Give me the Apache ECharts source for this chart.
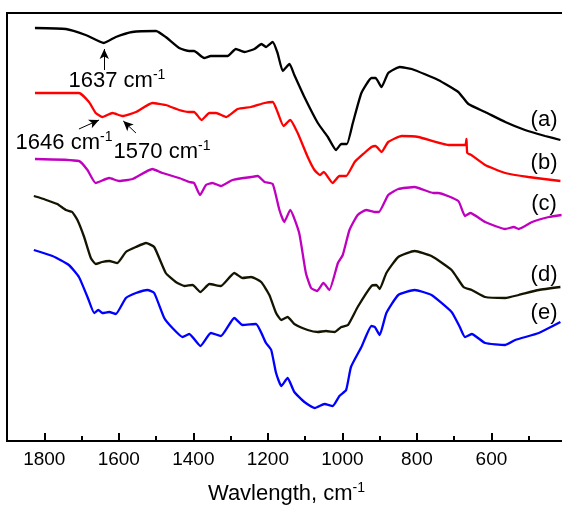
<!DOCTYPE html>
<html>
<head>
    <meta charset="utf-8">
    <title>FTIR</title>
    <script src="https://cdn.jsdelivr.net/npm/echarts@6/dist/echarts.min.js"></script>
    <style type="text/css">
        body{
            margin: 0;
            background: #fff;
        }
        #main{
            width: 562px;
            height: 505px;
        }
    </style>
</head>
<body>
<div id="main"></div>
<script>
    // wavenumbers (cm-1) and offset transmittance (a.u.)
    var wnA = [1825,1742,1689,1640,1608,1564,1500,1474,1438,1411,1398,1371,1353,1308,1286,1263,1236,1217,1205,1187,1174,1160,1142,1129,1102,1066,1039,1017,1003,988,972,949,922,911,895,877,846,814,743,689,662,617,563,510,456,415];
    var tA  = [413,412,406,398,404,409,410,404,393,390,390,383,385,385,392,389,392,397,394,399,388,370,377,366,344,318,304,291,297,297,318,348,363,363,354,368,374,372,361,349,337,329,319,311,305,301];

    var wnB = [1825,1707,1680,1662,1644,1617,1590,1554,1510,1474,1438,1411,1398,1378,1357,1339,1312,1281,1245,1209,1187,1174,1158,1140,1120,1093,1075,1060,1050,1026,1008,990,967,941,922,911,895,877,841,796,715,680,670,667,665,654,617,563,501,415];
    var tB  = [348,348,339,328,324,328,325,329,338,336,331,329,329,321,328,328,324,332,334,338,339,329,315,321,308,284,271,266,269,258,265,265,279,288,294,295,289,299,305,304,296,296,296,302,288,286,276,268,264,260];

    var wnC = [1825,1707,1684,1662,1626,1599,1563,1510,1483,1438,1411,1398,1382,1366,1349,1326,1295,1245,1227,1209,1187,1169,1156,1140,1116,1098,1084,1068,1051,1035,1012,999,981,959,936,914,902,877,850,806,756,743,689,671,657,617,563,540,527,491,446,412];
    var tC  = [282,280,271,258,263,260,262,272,268,263,259,258,246,256,258,255,261,264,265,259,257,231,219,231,208,168,153,150,158,151,178,186,211,226,231,229,229,246,252,254,248,248,240,225,228,219,212,214,212,219,224,226];

    var wnD = [1828,1810,1787,1765,1742,1725,1711,1693,1675,1662,1645,1626,1604,1581,1554,1527,1505,1474,1447,1424,1402,1381,1357,1326,1290,1268,1245,1218,1196,1178,1164,1147,1129,1093,1066,1044,1021,1003,985,959,922,909,900,882,850,806,761,707,675,653,617,563,527,473,415];
    var tD  = [245,243,240,237,231,229,221,204,183,177,179,180,178,189,194,198,194,168,159,155,156,149,157,155,168,163,164,159,146,128,121,124,117,111,109,110,109,114,116,134,155,156,152,168,184,190,185,171,154,151,144,143,146,151,154];

    var wnE = [1828,1778,1734,1707,1684,1666,1655,1644,1626,1608,1581,1554,1523,1505,1478,1456,1429,1411,1381,1353,1326,1290,1268,1232,1205,1191,1178,1164,1147,1129,1102,1074,1048,1026,1008,990,977,949,922,913,900,882,850,806,761,707,685,671,653,617,563,536,473,415];
    var tE  = [191,185,176,164,144,128,131,128,129,127,143,148,151,148,123,113,104,107,95,108,105,123,116,117,98,91,68,55,63,49,39,33,37,35,45,51,74,94,115,114,106,128,146,151,146,129,114,104,107,98,96,101,108,119];

    var curveNames = ['(a)', '(b)', '(c)', '(d)', '(e)'];
    var curveColors = ['#000000', '#ff0000', '#bf00bf', '#141400', '#0000ff'];
    // where the (a)..(e) tags sit, in wavenumber / a.u.
    var tagWn = 459;
    var tagT = [321, 278, 237, 166, 128];

    // peak notes: text position and arrow [from, to]
    var notes = [
        {text: '1637 cm', series: 0, at: [1605, 360], arrow: [[1639, 371], [1639, 392]]},
        {text: '1646 cm', series: 1, at: [1747, 298], arrow: [[1707, 312], [1653, 321]]},
        {text: '1570 cm', series: 1, at: [1484, 289], arrow: [[1554, 308], [1588, 320]]}
    ];

    var xTicks = [1800, 1600, 1400, 1200, 1000, 800, 600];

    function pairs(x, y) {
        var out = [];
        for (var i = 0; i < x.length; i++) {
            out.push([x[i], y[i]]);
        }
        return out;
    }

    var font = 'Arial, "Liberation Sans", sans-serif';
    var supRich = {
        n: {fontSize: 22, fontFamily: font, color: '#000'},
        s: {fontSize: 14, fontFamily: font, color: '#000', padding: [0, 0, 12, 0]}
    };

    var allData = [pairs(wnA, tA), pairs(wnB, tB), pairs(wnC, tC), pairs(wnD, tD), pairs(wnE, tE)];

    var series = [];
    for (var i = 0; i < allData.length; i++) {
        var mp = [{coord: [tagWn, tagT[i]], value: curveNames[i], label: {formatter: curveNames[i], fontSize: 22}}];
        var ml = [];
        notes.forEach(function (n) {
            if (n.series === i) {
                mp.push({coord: n.at, label: {formatter: '{n|' + n.text + '}{s|-1}', rich: supRich}});
                ml.push([{coord: n.arrow[0]}, {coord: n.arrow[1]}]);
            }
        });
        series.push({
            name: curveNames[i],
            type: 'line',
            data: allData[i],
            showSymbol: false,
            smooth: 0.15,
            lineStyle: {color: curveColors[i], width: 2.3},
            itemStyle: {color: curveColors[i]},
            markPoint: {
                symbol: 'rect',
                symbolSize: 1,
                itemStyle: {color: 'rgba(0,0,0,0)'},
                label: {show: true, position: 'inside', color: '#000', fontFamily: font},
                data: mp
            },
            markLine: {
                silent: true,
                symbol: ['none', 'arrow'],
                symbolSize: [7, 10],
                label: {show: false},
                lineStyle: {color: '#000', width: 1, type: 'solid'},
                itemStyle: {color: '#000'},
                data: ml
            }
        });
    }

    var myChart = echarts.init(document.getElementById('main'));
    var option = {
        animation: false,
        grid: {
            left: 7,
            top: 13,
            width: 559,
            height: 428,
            outerBoundsMode: 'none',
            containLabel: false,
            show: true,
            borderColor: '#000',
            borderWidth: 2
        },
        xAxis: [{
            type: 'value',
            inverse: true,
            min: 400,
            max: 1900,
            interval: 200,
            name: '{n|Wavlength, cm}{s|-1}',
            nameLocation: 'middle',
            nameGap: 40,
            nameTextStyle: {rich: supRich},
            axisLine: {lineStyle: {color: '#000', width: 2}},
            axisTick: {inside: true, length: 8, lineStyle: {color: '#000', width: 2}},
            axisLabel: {
                margin: 9,
                fontSize: 19,
                color: '#000',
                fontFamily: font,
                showMaxLabel: false,
                showMinLabel: false,
                formatter: function (v) {
                    return xTicks.indexOf(v) >= 0 ? String(v) : '';
                }
            },
            splitLine: {show: false}
        }, {
            type: 'value',
            inverse: true,
            min: 400,
            max: 1900,
            interval: 100,
            position: 'bottom',
            axisLine: {show: false},
            axisTick: {inside: true, length: 5, lineStyle: {color: '#000', width: 2}},
            axisLabel: {show: false},
            splitLine: {show: false}
        }],
        yAxis: {
            type: 'value',
            min: 0,
            max: 428,
            show: false
        },
        series: series
    };
    myChart.setOption(option);
</script>
</body>
</html>
